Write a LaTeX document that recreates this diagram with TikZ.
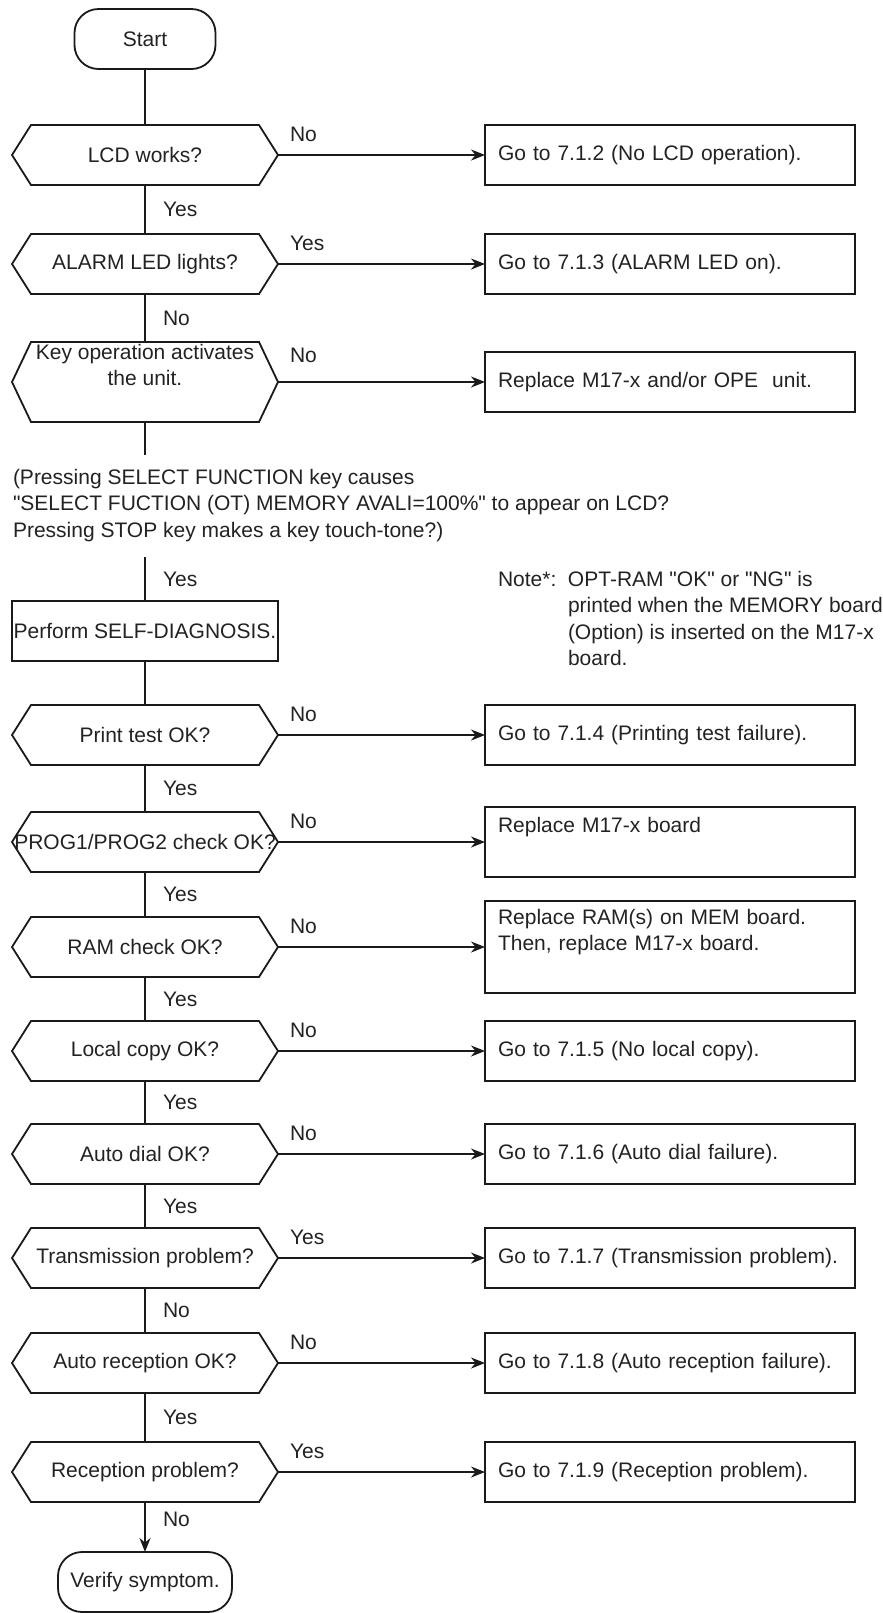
\documentclass[tikz,border=0pt]{standalone}
\usepackage{fontspec}
\setmainfont{Liberation Sans}[Ligatures=TeXOff]
\setsansfont{Liberation Sans}[Ligatures=TeXOff]
\usetikzlibrary{positioning, arrows.meta}
\definecolor{clrborder}{HTML}{1A1A1A}
\definecolor{clrtext}{HTML}{222222}

\begin{document}
\begin{tikzpicture}[
    every node/.style={font=\sffamily\fontsize{10.5}{13.2}\selectfont, text=clrtext, inner sep=0pt, outer sep=0pt},
    terminal/.style={draw=clrborder, rounded corners=12pt, line width=0.9pt, minimum height=30pt},
    decision/.style={minimum width=133pt, minimum height=30pt, align=center},
    process/.style={draw=clrborder, line width=0.9pt, minimum width=133pt, minimum height=30pt, align=center},
    result/.style={draw=clrborder, line width=0.9pt, text width=172pt, inner xsep=6.5pt, minimum height=30pt, align=left},
    hexline/.style={color=clrborder, line width=0.9pt, line join=miter},
    line/.style={color=clrborder, line width=0.9pt},
    arrow/.style={-{Stealth[length=7pt, width=5.5pt]}, color=clrborder, line width=0.9pt},
    outlbl/.style={pos=0, anchor=base west, xshift=6pt, yshift=7pt},
    downlbl/.style={anchor=west, xshift=9pt},
]
\useasboundingbox (0,0) rectangle (441.5pt,-806.5pt);
\node[terminal, minimum width=70.5pt] (n_start) at (72.5pt,-19.5pt) {Start};
\node[decision, below=28pt of n_start] (n_lcd) {LCD works?};
\node[decision, below=24.5pt of n_lcd] (n_alarm) {ALARM LED lights?};
\node[decision, minimum height=40pt, below=24pt of n_alarm] (n_key) {Key operation activates\\the unit.\\\strut};
\coordinate[below=16.5pt of n_key] (c_key);
\node[below right=23.5pt and 0.5pt of n_key.south west, align=left] (n_cond) {(Pressing SELECT FUNCTION key causes\\"SELECT FUCTION (OT) MEMORY AVALI=100\%" to appear on LCD?\\Pressing STOP key makes a key touch-tone?)};
\node[process, below=89.5pt of n_key] (n_self) {Perform SELF-DIAGNOSIS.};
\coordinate[above=22pt of n_self] (c_self);
\node[above right=16.5pt and 110pt of n_self.north east, anchor=north west] (n_note) {\begin{tabular}{@{}p{35pt}@{}l@{}}Note*: & OPT-RAM "OK" or "NG" is\\ & printed when the MEMORY board\\ & (Option) is inserted on the M17-x\\ & board.\end{tabular}};
\node[decision, below=22pt of n_self] (n_print) {Print test OK?};
\node[decision, below=23.5pt of n_print] (n_prog) {PROG1/PROG2 check OK?};
\node[decision, below=22.5pt of n_prog] (n_ram) {RAM check OK?};
\node[decision, below=22pt of n_ram] (n_local) {Local copy OK?};
\node[decision, below=21.5pt of n_local] (n_dial) {Auto dial OK?};
\node[decision, below=22pt of n_dial] (n_trans) {Transmission problem?};
\node[decision, below=22.5pt of n_trans] (n_autorx) {Auto reception OK?};
\node[decision, below=24.5pt of n_autorx] (n_rx) {Reception problem?};
\node[terminal, minimum width=87pt, below=25pt of n_rx] (n_verify) {Verify symptom.};
% hexagon outlines of the decisions
\foreach \n in {n_lcd, n_alarm, n_key, n_print, n_prog, n_ram, n_local, n_dial, n_trans, n_autorx, n_rx}
  \draw[hexline] (\n.west) -- ([xshift=9.5pt]\n.north west) -- ([xshift=-9.5pt]\n.north east) -- (\n.east)
    -- ([xshift=-9.5pt]\n.south east) -- ([xshift=9.5pt]\n.south west) -- cycle;
% results
\node[result, right=103.5pt of n_lcd] (r_lcd) {Go to 7.1.2 (No LCD operation).};
\node[result, right=103.5pt of n_alarm] (r_alarm) {Go to 7.1.3 (ALARM LED on).};
\node[result, right=103.5pt of n_key] (r_key) {Replace M17-x and/or OPE\ \ unit.};
\node[result, right=103.5pt of n_print] (r_print) {Go to 7.1.4 (Printing test failure).};
\node[result, minimum height=35pt, right=103.5pt of n_prog] (r_prog) {Replace M17-x board\\\strut};
\node[result, minimum height=46pt, right=103.5pt of n_ram] (r_ram) {Replace RAM(s) on MEM board.\\Then, replace M17-x board.\\\strut};
\node[result, right=103.5pt of n_local] (r_local) {Go to 7.1.5 (No local copy).};
\node[result, right=103.5pt of n_dial] (r_dial) {Go to 7.1.6 (Auto dial failure).};
\node[result, right=103.5pt of n_trans] (r_trans) {Go to 7.1.7 (Transmission problem).};
\node[result, right=103.5pt of n_autorx] (r_autorx) {Go to 7.1.8 (Auto reception failure).};
\node[result, right=103.5pt of n_rx] (r_rx) {Go to 7.1.9 (Reception problem).};
% main column
\draw[line] (n_start) -- (n_lcd);
\draw[line] (n_lcd) -- node[downlbl] {Yes} (n_alarm);
\draw[line] (n_alarm) -- node[downlbl] {No} (n_key);
\draw[line] (n_key) -- (c_key);
\draw[line] (c_self) -- node[downlbl] {Yes} (n_self);
\draw[line] (n_self) -- (n_print);
\draw[line] (n_print) -- node[downlbl] {Yes} (n_prog);
\draw[line] (n_prog) -- node[downlbl] {Yes} (n_ram);
\draw[line] (n_ram) -- node[downlbl] {Yes} (n_local);
\draw[line] (n_local) -- node[downlbl] {Yes} (n_dial);
\draw[line] (n_dial) -- node[downlbl] {Yes} (n_trans);
\draw[line] (n_trans) -- node[downlbl] {No} (n_autorx);
\draw[line] (n_autorx) -- node[downlbl] {Yes} (n_rx);
\draw[arrow] (n_rx) -- node[downlbl, pos=0.35] {No} (n_verify);
% branches
\draw[arrow] (n_lcd) -- node[outlbl] {No} (r_lcd);
\draw[arrow] (n_alarm) -- node[outlbl] {Yes} (r_alarm);
\draw[arrow] (n_key) -- node[outlbl, yshift=2.75pt] {No} (r_key);
\draw[arrow] (n_print) -- node[outlbl] {No} (r_print);
\draw[arrow] (n_prog) -- node[outlbl] {No} (r_prog);
\draw[arrow] (n_ram) -- node[outlbl] {No} (r_ram);
\draw[arrow] (n_local) -- node[outlbl] {No} (r_local);
\draw[arrow] (n_dial) -- node[outlbl] {No} (r_dial);
\draw[arrow] (n_trans) -- node[outlbl] {Yes} (r_trans);
\draw[arrow] (n_autorx) -- node[outlbl] {No} (r_autorx);
\draw[arrow] (n_rx) -- node[outlbl] {Yes} (r_rx);
\end{tikzpicture}
\end{document}
